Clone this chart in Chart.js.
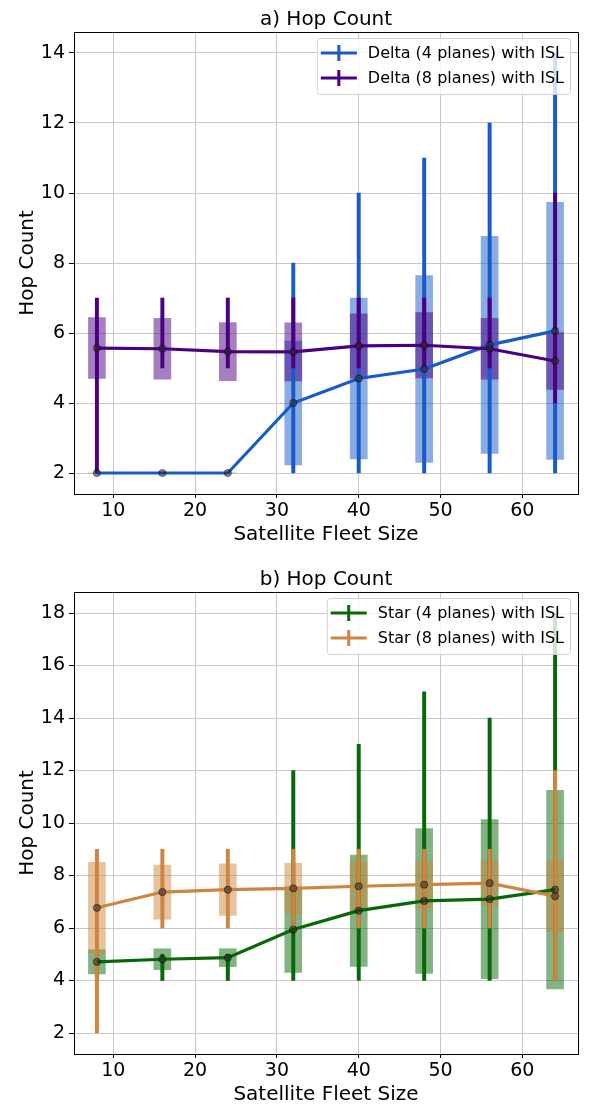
<!DOCTYPE html>
<html>
<head>
<meta charset="utf-8">
<script src="https://cdn.jsdelivr.net/npm/chart.js@4.4.0/dist/chart.umd.min.js"></script>
<style>
  html, body { margin: 0; padding: 0; background: #fff; overflow: hidden; }
  canvas { display: block; position: absolute; left: 0; }
</style>
</head>
<body>
<canvas id="hopDelta" width="611" height="560" style="top:0px"></canvas>
<canvas id="hopStar" width="611" height="560" style="top:560px"></canvas>
<script>
// x axis: satellite fleet size
const fleetSizes = [8, 16, 24, 32, 40, 48, 56, 64];
const xTicks = [10, 20, 30, 40, 50, 60];

// a) Delta constellations (mean, std dev, min, max of hop count)
const delta4Label = 'Delta (4 planes) with ISL';
const delta4Mean = [2, 2, 2, 4.0, 4.7, 4.97, 5.66, 6.06];
const delta4Std  = [0, 0, 0, 1.77, 2.3, 2.67, 3.1, 3.67];
const delta4Min  = [2, 2, 2, 2, 2, 2, 2, 2];
const delta4Max  = [2, 2, 2, 8, 10, 11, 12, 14];

const delta8Label = 'Delta (8 planes) with ISL';
const delta8Mean = [5.57, 5.55, 5.47, 5.46, 5.63, 5.65, 5.55, 5.20];
const delta8Std  = [0.87, 0.87, 0.83, 0.83, 0.92, 0.93, 0.87, 0.81];
const delta8Min  = [2, 5, 5, 5, 5, 5, 5, 4];
const delta8Max  = [7, 7, 7, 7, 7, 7, 7, 10];
const yTicksA = [2, 4, 6, 8, 10, 12, 14];

// b) Star constellations
const star4Label = 'Star (4 planes) with ISL';
const star4Mean = [4.71, 4.81, 4.87, 5.94, 6.66, 7.03, 7.10, 7.46];
const star4Std  = [0.46, 0.40, 0.34, 1.63, 2.12, 2.76, 3.03, 3.78];
const star4Min  = [4, 4, 4, 4, 4, 4, 4, 4];
const star4Max  = [5, 5, 5, 12, 13, 15, 14, 18];

const star8Label = 'Star (8 planes) with ISL';
const star8Mean = [6.77, 7.37, 7.46, 7.51, 7.59, 7.65, 7.71, 7.21];
const star8Std  = [1.73, 1.03, 0.98, 0.96, 0.92, 0.89, 0.85, 1.36];
const star8Min  = [2, 6, 6, 6, 6, 6, 6, 4];
const star8Max  = [9, 9, 9, 9, 9, 9, 9, 12];
const yTicksB = [2, 4, 6, 8, 10, 12, 14, 16, 18];

Chart.defaults.font.family = '"DejaVu Sans", sans-serif';
Chart.defaults.color = '#000';

const meanPoints = (means) => fleetSizes.map((x, i) => ({ x: x, y: means[i] }));
const rangeBars = (lo, hi) => fleetSizes.map((x, i) => ({ x: x, y: [lo[i], hi[i]] }));
const stdBars = (means, stds) => fleetSizes.map((x, i) => ({ x: x, y: [means[i] - stds[i], means[i] + stds[i]] }));

// one series = mean line with markers, min/max whisker, +-std box
function seriesDatasets(label, color, boxColor, means, stds, mins, maxs, z) {
  return [
    { type: 'line', label: label, data: meanPoints(means), borderColor: color, borderWidth: 3.2,
      pointRadius: 3.6, pointBackgroundColor: 'rgba(40,40,40,0.55)', pointBorderColor: 'rgba(0,0,0,0.45)',
      pointBorderWidth: 1, tension: 0, fill: false, order: z },
    { type: 'bar', label: label, data: rangeBars(mins, maxs), backgroundColor: color,
      barThickness: 3.3, grouped: false, borderWidth: 0, order: z + 10 },
    { type: 'bar', label: label, data: stdBars(means, stds), backgroundColor: boxColor,
      barThickness: 17, grouped: false, borderWidth: 0, order: z + 20 }
  ];
}

// title, top/right spines and matplotlib-like legend inside the plot
const panelFrame = {
  id: 'panelFrame',
  afterDraw(chart, args, opts) {
    const ctx = chart.ctx;
    const a = chart.chartArea;
    ctx.save();
    ctx.strokeStyle = '#000';
    ctx.lineWidth = 1;
    ctx.beginPath();
    ctx.moveTo(a.left, a.top + 0.5);
    ctx.lineTo(a.right + 0.5, a.top + 0.5);
    ctx.lineTo(a.right + 0.5, a.bottom);
    ctx.stroke();

    ctx.fillStyle = '#000';
    ctx.font = '20px "DejaVu Sans"';
    ctx.textAlign = 'center';
    ctx.textBaseline = 'alphabetic';
    ctx.fillText(opts.title, (a.left + a.right) / 2, 25);

    // legend
    ctx.font = '16px "DejaVu Sans"';
    const textW = Math.max(...opts.legend.map(it => ctx.measureText(it.label).width));
    const w = 4 + 36 + 11 + textW + 6;
    const right = a.right - 8;
    const left = right - w;
    const top = a.top + 6;
    const h = 56;
    ctx.beginPath();
    ctx.roundRect(left + 0.5, top + 0.5, w, h, 3);
    ctx.fillStyle = 'rgba(255,255,255,0.8)';
    ctx.fill();
    ctx.strokeStyle = '#d0d0d0';
    ctx.stroke();
    opts.legend.forEach((it, i) => {
      const y = top + 15 + i * 25;
      const hx = left + 4;
      ctx.strokeStyle = it.color;
      ctx.lineWidth = 3;
      ctx.beginPath();
      ctx.moveTo(hx, y);
      ctx.lineTo(hx + 36, y);
      ctx.moveTo(hx + 18, y - 8);
      ctx.lineTo(hx + 18, y + 8);
      ctx.stroke();
      ctx.fillStyle = '#000';
      ctx.textAlign = 'left';
      ctx.textBaseline = 'middle';
      ctx.fillText(it.label, hx + 47, y + 1);
    });
    ctx.restore();
  }
};

function makePanel(canvasId, title, datasets, legendItems, yMin, yMax, yTicks) {
  const ctx = document.getElementById(canvasId).getContext('2d');
  return new Chart(ctx, {
    type: 'bar',
    data: { datasets: datasets },
    options: {
      responsive: false,
      animation: false,
      events: [],
      layout: { padding: { top: 32, right: 33, left: 0, bottom: 0 } },
      plugins: {
        legend: { display: false },
        tooltip: { enabled: false },
        panelFrame: { title: title, legend: legendItems }
      },
      scales: {
        x: {
          type: 'linear',
          min: 5.2,
          max: 66.8,
          offset: false,
          afterBuildTicks: (s) => { s.ticks = xTicks.map(v => ({ value: v })); },
          afterFit: (s) => { s.height = 66; },
          grid: { color: '#c8c8c8', lineWidth: 1, tickColor: '#000', tickLength: 4, offset: false },
          border: { color: '#000', width: 1 },
          ticks: { font: { size: 19 }, padding: 2, maxRotation: 0 },
          title: { display: true, text: 'Satellite Fleet Size', font: { size: 20 }, padding: { top: 0, bottom: 13 } }
        },
        y: {
          type: 'linear',
          min: yMin,
          max: yMax,
          afterBuildTicks: (s) => { s.ticks = yTicks.map(v => ({ value: v })); },
          afterFit: (s) => { s.width = 74; },
          grid: { color: '#c8c8c8', lineWidth: 1, tickColor: '#000', tickLength: 5 },
          border: { color: '#000', width: 1 },
          ticks: { font: { size: 19 }, padding: 4 },
          title: { display: true, text: 'Hop Count', font: { size: 20 }, padding: { top: 15.5, bottom: 0 } }
        }
      }
    },
    plugins: [panelFrame]
  });
}

const deltaBlue = 'rgb(24,90,200)';
const deltaPurple = 'rgb(75,0,130)';
const starGreen = 'rgb(8,104,8)';
const starOrange = 'rgb(205,133,63)';

makePanel('hopDelta', 'a) Hop Count',
  seriesDatasets(delta8Label, deltaPurple, 'rgba(75,0,130,0.5)', delta8Mean, delta8Std, delta8Min, delta8Max, 0)
    .concat(seriesDatasets(delta4Label, deltaBlue, 'rgba(24,90,200,0.5)', delta4Mean, delta4Std, delta4Min, delta4Max, 1)),
  [{ label: delta4Label, color: deltaBlue }, { label: delta8Label, color: deltaPurple }],
  1.4, 14.6, yTicksA);

makePanel('hopStar', 'b) Hop Count',
  seriesDatasets(star8Label, starOrange, 'rgba(205,133,63,0.5)', star8Mean, star8Std, star8Min, star8Max, 0)
    .concat(seriesDatasets(star4Label, starGreen, 'rgba(8,104,8,0.5)', star4Mean, star4Std, star4Min, star4Max, 1)),
  [{ label: star4Label, color: starGreen }, { label: star8Label, color: starOrange }],
  1.2, 18.8, yTicksB);
</script>
</body>
</html>
